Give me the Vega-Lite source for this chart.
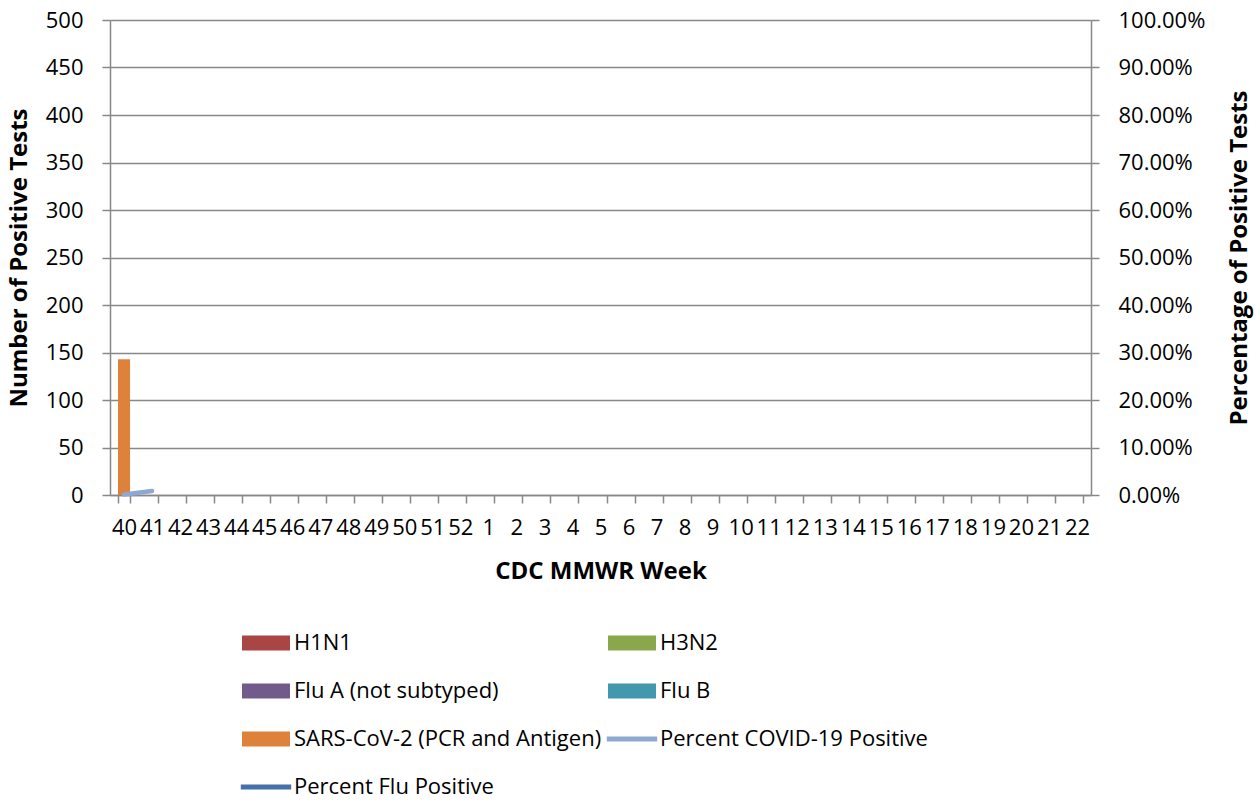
{
  "$schema": "https://vega.github.io/schema/vega-lite/v6.json",
  "width": 981,
  "height": 475,
  "autosize": "none",
  "padding": {"left": 110, "top": 20, "right": 164, "bottom": 305},
  "background": "white",
  "config": {
    "font": "Open Sans",
    "view": {"stroke": null},
    "axis": {
      "labelFont": "Open Sans",
      "labelFontSize": 22,
      "labelColor": "black",
      "titleFont": "Open Sans",
      "titleFontSize": 24,
      "titleFontWeight": "bold",
      "titleColor": "black",
      "domainColor": "#888888",
      "tickColor": "#888888",
      "gridColor": "#888888",
      "domainWidth": 1.5,
      "tickWidth": 1.5,
      "gridWidth": 1.3,
      "tickSize": 8
    },
    "legend": {
      "labelFont": "Open Sans",
      "labelFontSize": 22,
      "labelColor": "black"
    }
  },
  "datasets": {
    "bars": [
      {"week": "40", "series": "H1N1", "count": 0},
      {"week": "40", "series": "H3N2", "count": 0},
      {"week": "40", "series": "Flu A (not subtyped)", "count": 0},
      {"week": "40", "series": "Flu B", "count": 0},
      {"week": "40", "series": "SARS-CoV-2 (PCR and Antigen)", "count": 143}
    ],
    "lines": [
      {"week": "40", "series": "Percent COVID-19 Positive", "pct": 0.001},
      {"week": "41", "series": "Percent COVID-19 Positive", "pct": 0.0085}
    ]
  },
  "layer": [
    {
      "data": {"name": "bars"},
      "mark": {"type": "bar"},
      "encoding": {
        "x": {
          "field": "week",
          "type": "ordinal",
          "sort": null,
          "scale": {
            "domain": ["40","41","42","43","44","45","46","47","48","49","50","51","52","1","2","3","4","5","6","7","8","9","10","11","12","13","14","15","16","17","18","19","20","21","22"],
            "paddingInner": 0.57,
            "paddingOuter": 0.285
          },
          "axis": {
            "title": "CDC MMWR Week",
            "labelAngle": 0,
            "labelOverlap": false,
            "tickBand": "extent",
            "labelPadding": 14,
            "titlePadding": 21,
            "grid": false
          }
        },
        "y": {
          "field": "count",
          "type": "quantitative",
          "stack": "zero",
          "scale": {"domain": [0, 500], "nice": false},
          "axis": {
            "title": "Number of Positive Tests",
            "values": [0,50,100,150,200,250,300,350,400,450,500],
            "grid": true,
            "labelPadding": 19,
            "titlePadding": 14
          }
        },
        "color": {
          "field": "series",
          "type": "nominal",
          "scale": {
            "domain": ["H1N1","H3N2","Flu A (not subtyped)","Flu B","SARS-CoV-2 (PCR and Antigen)","Percent COVID-19 Positive","Percent Flu Positive"],
            "range": ["#A94545","#8BA74B","#735A8D","#4398AE","#DE823B","#8EA9D1","#4671A8"]
          },
          "legend": {
            "title": null,
            "orient": "none",
            "direction": "horizontal",
            "legendX": 132,
            "legendY": 599,
            "columns": 2,
            "padding": 0,
            "columnPadding": 4,
            "rowPadding": 13,
            "labelOffset": 4,
            "labelLimit": 1000,
            "symbolSize": 2304,
            "symbolStrokeWidth": 0,
            "symbolOpacity": 1,
            "encode": {
              "symbols": {
                "update": {
                  "shape": {"signal": "indexof(['Percent COVID-19 Positive','Percent Flu Positive'], datum.value) >= 0 ? 'M-1.05,-0.1H1.05V0.1H-1.05Z' : 'M-1,-0.31H1V0.31H-1Z'"},
                  "fill": {"scale": "color", "field": "value"},
                  "strokeWidth": {"value": 0},
                  "opacity": {"value": 1}
                }
              }
            }
          }
        }
      }
    },
    {
      "data": {"name": "lines"},
      "mark": {"type": "line", "strokeWidth": 4.5, "strokeCap": "round"},
      "encoding": {
        "x": {"field": "week", "type": "ordinal", "sort": null},
        "y": {
          "field": "pct",
          "type": "quantitative",
          "scale": {"domain": [0, 1], "nice": false},
          "axis": {
            "orient": "right",
            "title": "Percentage of Positive Tests",
            "titleAngle": 270,
            "format": ".2%",
            "values": [0,0.1,0.2,0.3,0.4,0.5,0.6,0.7,0.8,0.9,1],
            "grid": false,
            "labelPadding": 19,
            "titlePadding": 47
          }
        },
        "color": {"field": "series", "type": "nominal"}
      }
    }
  ],
  "resolve": {"scale": {"y": "independent"}}
}
